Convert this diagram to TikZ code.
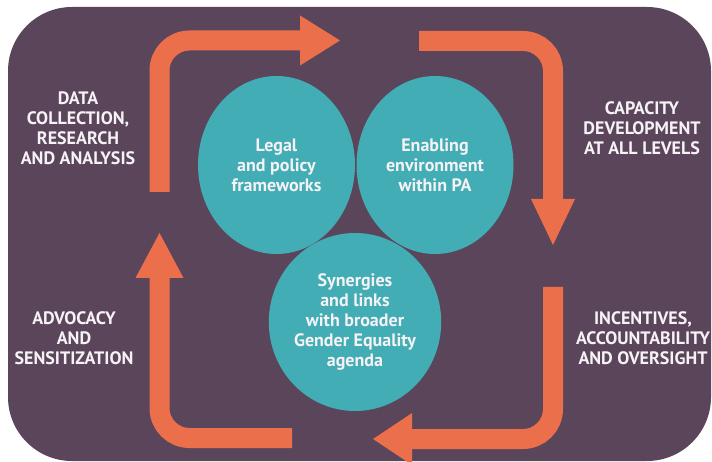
\documentclass[tikz,border=0pt]{standalone}
\usepackage{fontspec}
\setmainfont{PT Sans}
\usetikzlibrary{shapes.geometric}
\definecolor{bgpurple}{RGB}{91,69,91}
\definecolor{blobteal}{RGB}{66,173,180}
\definecolor{arrorange}{RGB}{236,111,75}
\definecolor{txtwhite}{RGB}{246,242,246}
\begin{document}
\begin{tikzpicture}[x=1pt,y=-1pt,
  band/.style={draw=arrorange, line width=20pt, rounded corners=30pt},
  headtri/.style={fill=arrorange},
  blob/.style={ellipse, fill=blobteal, inner sep=0pt, minimum width=157pt, minimum height=178pt,
    text=txtwhite, align=center, font=\bfseries\fontsize{18}{20}\selectfont},
  lbl/.style={text=txtwhite, align=center, inner sep=0pt, font=\bfseries\fontsize{18}{20}\selectfont}]
\useasboundingbox (0,0) rectangle (712,462);
\fill[white] (0,0) rectangle (712,462);
\fill[bgpurple, rounded corners=64pt] (8,7) rectangle (711,461);
% circles
\node[blob] (legal) at (276.5,165) {Legal\\and policy\\frameworks};
\node[blob] (enab) at (435,165) {Enabling\\environment\\within PA};
\node[blob] (syn) at (355,322) {Synergies\\and links\\with broader\\Gender Equality\\agenda};
% arrow 1 (up then right)
\coordinate (a1s) at (159.5,192);
\coordinate (a1c) at (159.5,40.5);
\coordinate (a1e) at (301,40.5);
\draw[band] (a1s) -- (a1c) -- (a1e);
\fill[headtri] (300,15.5) -- (340,40.5) -- (300,65.5) -- cycle;
% arrow 2 (right then down)
\coordinate (a2s) at (419,41);
\coordinate (a2c) at (553,41);
\coordinate (a2e) at (553,200);
\draw[band] (a2s) -- (a2c) -- (a2e);
\fill[headtri] (531,199) -- (553,245) -- (575,199) -- cycle;
% arrow 3 (down then left)
\coordinate (a3s) at (553,287);
\coordinate (a3c) at (553,439);
\coordinate (a3e) at (411,439);
\draw[band] (a3s) -- (a3c) -- (a3e);
\fill[headtri] (412,413) -- (373,439) -- (412,465) -- cycle;
% arrow 4 (left then up)
\coordinate (a4s) at (292,438);
\coordinate (a4c) at (159.5,438);
\coordinate (a4e) at (159.5,277);
\draw[band] (a4s) -- (a4c) -- (a4e);
\fill[headtri] (135.5,278) -- (159.5,233) -- (183.5,278) -- cycle;
% labels
\node[lbl] (data) at (78,128) {DATA\\COLLECTION,\\RESEARCH\\AND ANALYSIS};
\node[lbl] (capa) at (642,128) {CAPACITY\\DEVELOPMENT\\AT ALL LEVELS};
\node[lbl] (advo) at (74,338) {ADVOCACY\\AND\\SENSITIZATION};
\node[lbl] (ince) at (643,338) {INCENTIVES,\\ACCOUNTABILITY\\AND OVERSIGHT};
\end{tikzpicture}
\end{document}
